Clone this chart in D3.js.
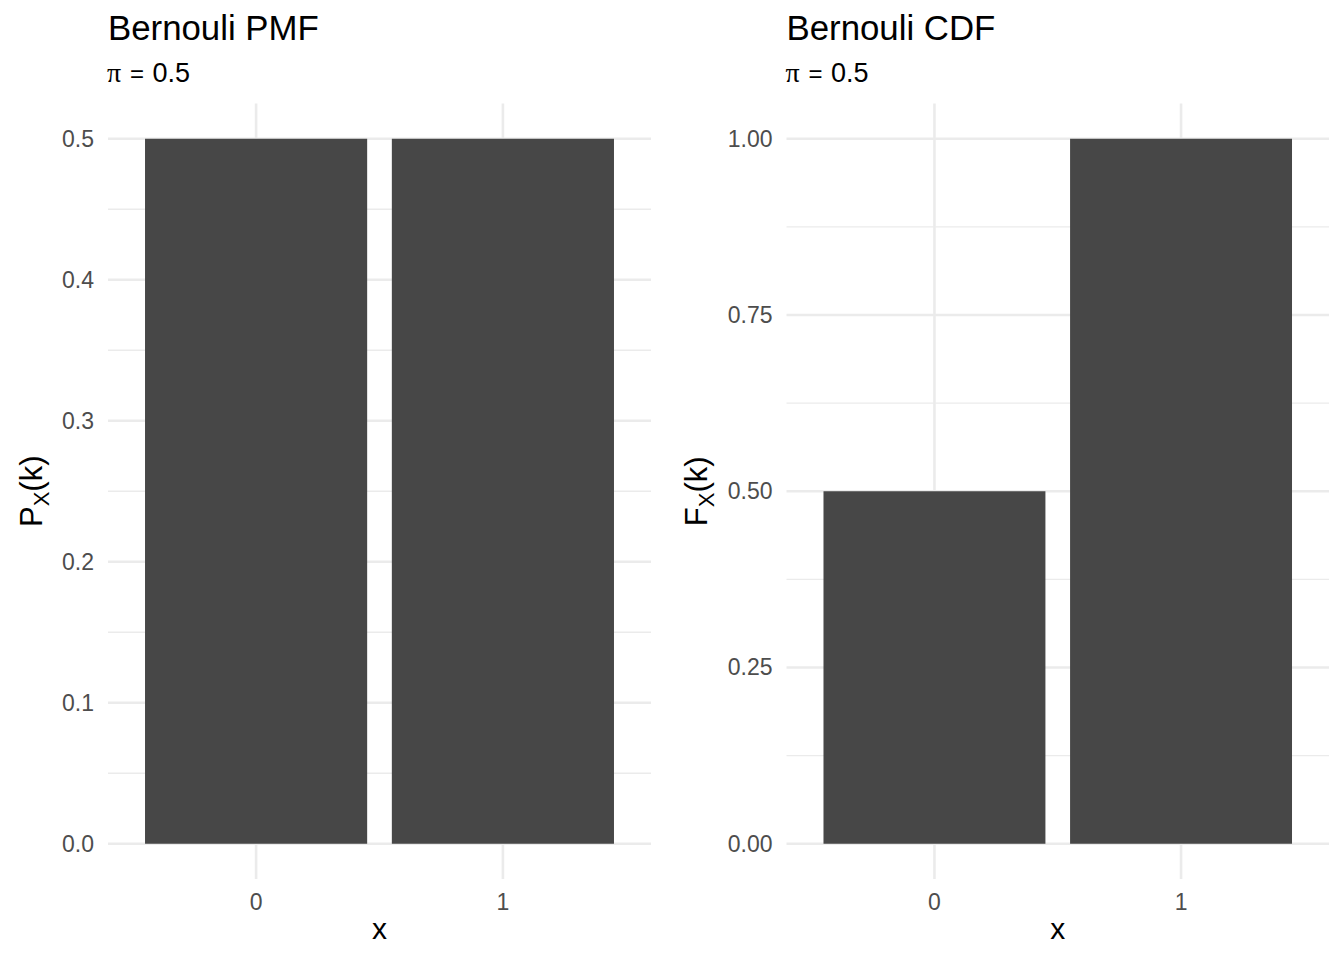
<!DOCTYPE html>
<html>
<head>
<meta charset="utf-8">
<script src="https://cdn.jsdelivr.net/npm/d3@7"></script>
<style>
  body { margin: 0; background: #ffffff; }
  svg { display: block; font-family: "Liberation Sans", Arial, sans-serif; }
</style>
</head>
<body>
<svg id="chart" width="1344" height="960"></svg>
<script>
"use strict";

// data
const categories = ["0", "1"];
const pmfValues = [0.5, 0.5];
const cdfValues = [0.5, 1.0];
const pmfTicks = [0, 0.1, 0.2, 0.3, 0.4, 0.5];
const pmfTickLabels = ["0.0", "0.1", "0.2", "0.3", "0.4", "0.5"];
const cdfTicks = [0, 0.25, 0.5, 0.75, 1];
const cdfTickLabels = ["0.00", "0.25", "0.50", "0.75", "1.00"];
const piValue = "0.5";

const gridColor = "#ebebeb";
const barColor = "#474747";
const panelTop = 103.5;
const panelBottom = 879;
const tickFont = 23;

const svg = d3.select("#chart");

// one ggplot-ish panel
const drawPanel = function (opts) {
  const g = svg.append("g");
  const yMax = d3.max(opts.ticks);
  const pad = yMax * 0.05;
  const y = d3.scaleLinear().domain([-pad, yMax + pad]).range([panelBottom, panelTop]);
  const x = d3.scaleBand().domain(categories)
    .range([opts.left, opts.right])
    .paddingInner(0.1).paddingOuter(0.15);
  const xc = d => x(d) + x.bandwidth() / 2;

  // minor grid, halfway between majors
  const minor = d3.pairs(opts.ticks).map(p => (p[0] + p[1]) / 2);
  g.selectAll("line.minor").data(minor).enter().append("line")
    .attr("class", "minor")
    .attr("x1", opts.left).attr("x2", opts.right)
    .attr("y1", d => y(d)).attr("y2", d => y(d))
    .attr("stroke", gridColor).attr("stroke-width", 1.3);

  // major grid
  g.selectAll("line.majorY").data(opts.ticks).enter().append("line")
    .attr("class", "majorY")
    .attr("x1", opts.left).attr("x2", opts.right)
    .attr("y1", d => y(d)).attr("y2", d => y(d))
    .attr("stroke", gridColor).attr("stroke-width", 2.6);
  g.selectAll("line.majorX").data(categories).enter().append("line")
    .attr("class", "majorX")
    .attr("x1", xc).attr("x2", xc)
    .attr("y1", panelTop).attr("y2", panelBottom)
    .attr("stroke", gridColor).attr("stroke-width", 2.6);

  // bars
  g.selectAll("rect.bar").data(opts.values).enter().append("rect")
    .attr("class", "bar")
    .attr("x", (d, i) => x(categories[i]))
    .attr("width", x.bandwidth())
    .attr("y", d => y(d))
    .attr("height", d => y(0) - y(d))
    .attr("fill", barColor);

  // axes without lines, just labels
  const axisLeft = d3.axisLeft(y).tickValues(opts.ticks)
    .tickFormat((d, i) => opts.tickLabels[i]).tickSize(0).tickPadding(14);
  const ga = g.append("g").attr("transform", "translate(" + opts.left + ",0)").call(axisLeft);
  ga.select(".domain").remove();
  ga.selectAll("text").attr("font-size", tickFont).attr("fill", "#4d4d4d")
    .attr("font-family", "Liberation Sans, Arial, sans-serif");

  const axisBottom = d3.axisBottom(x).tickSize(0).tickPadding(14.5);
  const gb = g.append("g").attr("transform", "translate(0," + panelBottom + ")").call(axisBottom);
  gb.select(".domain").remove();
  gb.selectAll("text").attr("font-size", tickFont).attr("fill", "#4d4d4d")
    .attr("font-family", "Liberation Sans, Arial, sans-serif");

  // axis titles
  g.append("text")
    .attr("x", (opts.left + opts.right) / 2).attr("y", 939)
    .attr("text-anchor", "middle").attr("font-size", 30).attr("fill", "#000")
    .text("x");

  const yt = g.append("text")
    .attr("transform", "translate(" + opts.yTitleX + "," + ((panelTop + panelBottom) / 2) + ") rotate(-90)")
    .attr("text-anchor", "middle").attr("font-size", 31).attr("fill", "#000");
  yt.append("tspan").text(opts.yLetter);
  yt.append("tspan").attr("font-size", 22).attr("dy", 7).text("X");
  yt.append("tspan").attr("dy", -7).text("(k)");

  // title and subtitle
  g.append("text")
    .attr("x", opts.left).attr("y", 40)
    .attr("font-size", 34.8).attr("fill", "#000")
    .text(opts.title);
  const st = g.append("text")
    .attr("y", 82).attr("font-size", 27).attr("fill", "#000");
  st.append("tspan").attr("x", opts.left - 1)
    .attr("font-family", "Liberation Serif, serif").attr("font-size", 28).text("\u03c0");
  st.append("tspan").attr("x", opts.left + 22).attr("font-size", 24).text("=");
  st.append("tspan").attr("x", opts.left + 44.5).text(piValue);
};

drawPanel({
  left: 108, right: 651, values: pmfValues,
  ticks: pmfTicks, tickLabels: pmfTickLabels,
  title: "Bernouli PMF", yLetter: "P", yTitleX: 42
});

drawPanel({
  left: 786.5, right: 1329, values: cdfValues,
  ticks: cdfTicks, tickLabels: cdfTickLabels,
  title: "Bernouli CDF", yLetter: "F", yTitleX: 707
});
</script>
</body>
</html>
